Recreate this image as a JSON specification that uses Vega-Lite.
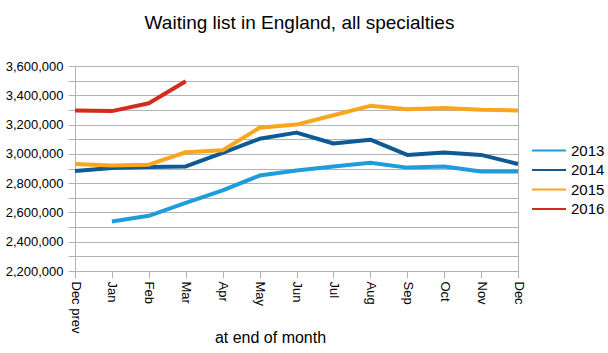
{
  "$schema": "https://vega.github.io/schema/vega-lite/v6.json",
  "width": 443,
  "height": 205,
  "autosize": {"type": "none"},
  "padding": {"left": 75, "top": 66, "right": 90, "bottom": 82},
  "background": "white",
  "title": {
    "text": "Waiting list in England, all specialties",
    "font": "Liberation Sans",
    "fontSize": 19,
    "fontWeight": "normal",
    "color": "black",
    "anchor": "middle",
    "frame": "group",
    "baseline": "alphabetic",
    "offset": 12,
    "dx": 3
  },
  "data": {
    "values": [
      {"month": "Jan", "year": "2013", "value": 2538000},
      {"month": "Feb", "year": "2013", "value": 2577000},
      {"month": "Mar", "year": "2013", "value": 2665000},
      {"month": "Apr", "year": "2013", "value": 2750000},
      {"month": "May", "year": "2013", "value": 2852000},
      {"month": "Jun", "year": "2013", "value": 2887000},
      {"month": "Jul", "year": "2013", "value": 2914000},
      {"month": "Aug", "year": "2013", "value": 2940000},
      {"month": "Sep", "year": "2013", "value": 2906000},
      {"month": "Oct", "year": "2013", "value": 2914000},
      {"month": "Nov", "year": "2013", "value": 2879000},
      {"month": "Dec", "year": "2013", "value": 2879000},
      {"month": "Dec prev", "year": "2014", "value": 2883000},
      {"month": "Jan", "year": "2014", "value": 2903000},
      {"month": "Feb", "year": "2014", "value": 2910000},
      {"month": "Mar", "year": "2014", "value": 2914000},
      {"month": "Apr", "year": "2014", "value": 3007000},
      {"month": "May", "year": "2014", "value": 3103000},
      {"month": "Jun", "year": "2014", "value": 3145000},
      {"month": "Jul", "year": "2014", "value": 3071000},
      {"month": "Aug", "year": "2014", "value": 3097000},
      {"month": "Sep", "year": "2014", "value": 2993000},
      {"month": "Oct", "year": "2014", "value": 3009000},
      {"month": "Nov", "year": "2014", "value": 2993000},
      {"month": "Dec", "year": "2014", "value": 2931000},
      {"month": "Dec prev", "year": "2015", "value": 2931000},
      {"month": "Jan", "year": "2015", "value": 2921000},
      {"month": "Feb", "year": "2015", "value": 2926000},
      {"month": "Mar", "year": "2015", "value": 3011000},
      {"month": "Apr", "year": "2015", "value": 3025000},
      {"month": "May", "year": "2015", "value": 3178000},
      {"month": "Jun", "year": "2015", "value": 3200000},
      {"month": "Jul", "year": "2015", "value": 3264000},
      {"month": "Aug", "year": "2015", "value": 3328000},
      {"month": "Sep", "year": "2015", "value": 3305000},
      {"month": "Oct", "year": "2015", "value": 3314000},
      {"month": "Nov", "year": "2015", "value": 3302000},
      {"month": "Dec", "year": "2015", "value": 3296000},
      {"month": "Dec prev", "year": "2016", "value": 3296000},
      {"month": "Jan", "year": "2016", "value": 3292000},
      {"month": "Feb", "year": "2016", "value": 3346000},
      {"month": "Mar", "year": "2016", "value": 3496000}
    ]
  },
  "mark": {"type": "line", "strokeWidth": 4, "strokeJoin": "round", "strokeCap": "butt"},
  "encoding": {
    "x": {
      "field": "month",
      "type": "ordinal",
      "sort": ["Dec prev", "Jan", "Feb", "Mar", "Apr", "May", "Jun", "Jul", "Aug", "Sep", "Oct", "Nov", "Dec"],
      "scale": {"type": "point", "padding": 0},
      "axis": {
        "title": "at end of month",
        "titleFont": "Liberation Sans",
        "titleFontSize": 16,
        "titleFontWeight": "normal",
        "titleColor": "black",
        "titleX": 195,
        "titleY": 71,
        "titleAlign": "center",
        "titleBaseline": "alphabetic",
        "labelAngle": 90,
        "labelAlign": "left",
        "labelBaseline": "middle",
        "labelFont": "Liberation Sans",
        "labelFontSize": 13,
        "labelColor": "black",
        "labelPadding": 3,
        "tickSize": 7,
        "tickColor": "#b3b3b3",
        "domainColor": "#b3b3b3",
        "grid": false
      }
    },
    "y": {
      "field": "value",
      "type": "quantitative",
      "scale": {"domain": [2200000, 3600000], "nice": false, "zero": false},
      "axis": {
        "title": null,
        "values": [2200000, 2300000, 2400000, 2500000, 2600000, 2700000, 2800000, 2900000, 3000000, 3100000, 3200000, 3300000, 3400000, 3500000, 3600000],
        "labelExpr": "datum.value % 200000 == 0 ? format(datum.value, ',') : ''",
        "labelFont": "Liberation Sans",
        "labelFontSize": 13,
        "labelColor": "black",
        "labelPadding": 5,
        "tickSize": 7,
        "tickColor": "#b3b3b3",
        "domainColor": "#b3b3b3",
        "grid": true,
        "gridColor": "#b3b3b3",
        "gridWidth": 1
      }
    },
    "color": {
      "field": "year",
      "type": "nominal",
      "scale": {"domain": ["2013", "2014", "2015", "2016"], "range": ["#1e9cdb", "#0f5a94", "#f9a61c", "#d52b1e"]},
      "legend": {
        "title": null,
        "orient": "none",
        "legendX": 463,
        "legendY": 73.5,
        "padding": 0,
        "symbolType": "M-1.7,0H1.7",
        "symbolSize": 400,
        "symbolStrokeWidth": 2,
        "symbolFillColor": "transparent",
        "labelFont": "Liberation Sans",
        "labelFontSize": 15,
        "labelColor": "black",
        "labelOffset": 11,
        "rowPadding": 0.5
      }
    }
  },
  "config": {
    "view": {"stroke": "#b3b3b3", "strokeWidth": 1}
  }
}
